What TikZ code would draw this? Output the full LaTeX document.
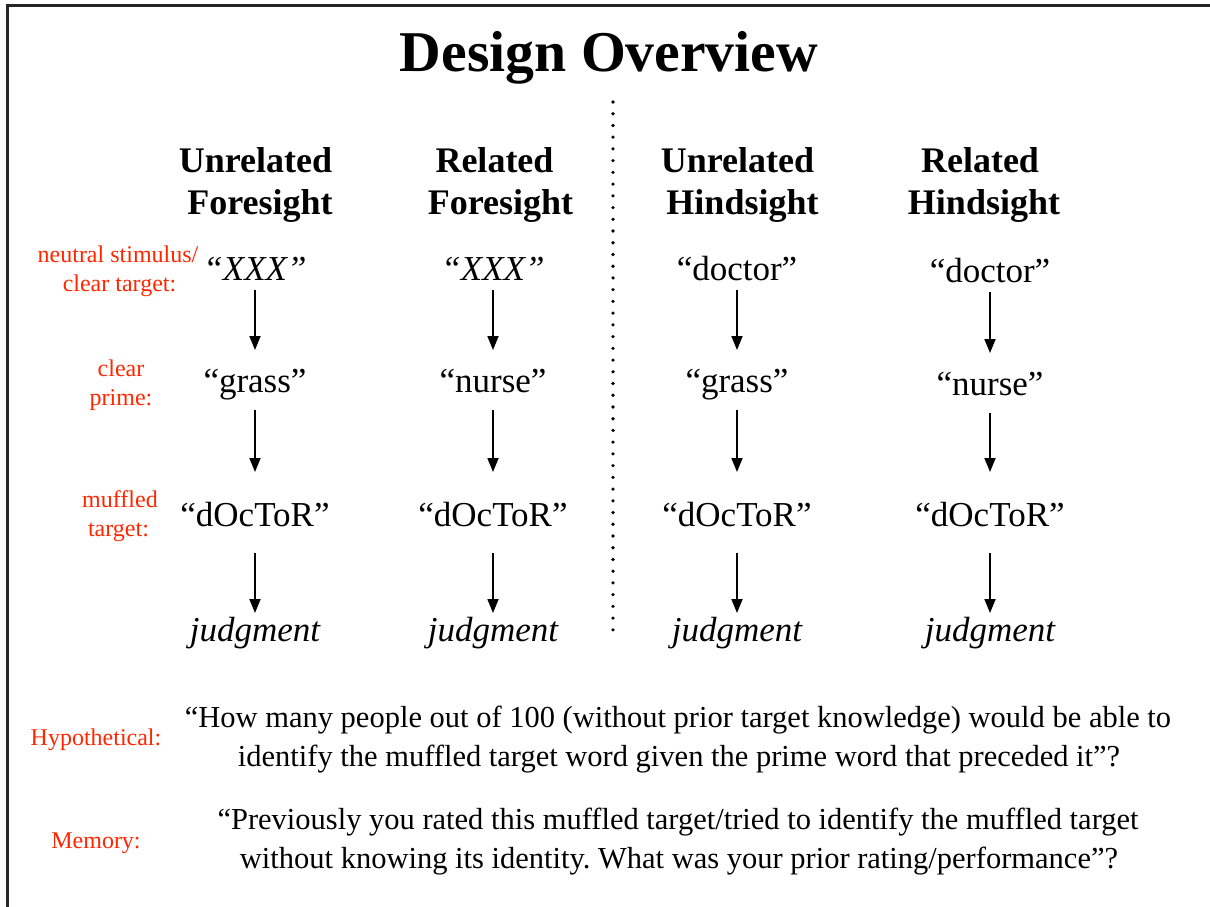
\documentclass[tikz,border=0pt]{standalone}
\usepackage{fontspec}
\setmainfont{Liberation Serif}
\usetikzlibrary{arrows.meta}
\definecolor{lblred}{RGB}{255,38,0}
\frenchspacing
\begin{document}
\begin{tikzpicture}[x=1pt,y=-1pt,
  title/.style={anchor=base,inner sep=0pt,font=\fontsize{57.7}{60}\selectfont\bfseries},
  head/.style={anchor=base,inner sep=0pt,font=\fontsize{36}{40}\selectfont\bfseries},
  item/.style={anchor=base,inner sep=0pt,font=\fontsize{35}{40}\selectfont},
  lbl/.style={anchor=base,inner sep=0pt,text=lblred,font=\fontsize{24}{26}\selectfont},
  quest/.style={anchor=base,inner sep=0pt,font=\fontsize{30.5}{36}\selectfont},
  arr/.style={line width=1.8pt,-{Triangle[length=14pt,width=11pt]}},
  sep/.style={line width=3.6pt,dash pattern=on 0pt off 11.73pt,line cap=round}]
\useasboundingbox (0,0) rectangle (1210,907);
\draw[line width=2.6pt,black!85] (7.5,5.5) rectangle (1220,920);
\node[title] (t) at (609,71) {Design Overview};
% dotted separator
\coordinate (d1) at (613,102);
\coordinate (d2) at (613,632);
\draw[sep] (d1) -- (d2);
% headers
\node[head] (h1a) at (255.5,172) {Unrelated};
\node[head] (h1b) at (260,214) {Foresight};
\node[head] (h2a) at (494.5,172) {Related};
\node[head] (h2b) at (500.5,214) {Foresight};
\node[head] (h3a) at (737.5,172) {Unrelated};
\node[head] (h3b) at (742.5,214) {Hindsight};
\node[head] (h4a) at (980,172) {Related};
\node[head] (h4b) at (984,214) {Hindsight};
% row labels
\node[lbl] (l1a) at (118,262) {neutral stimulus/};
\node[lbl] (l1b) at (119.5,291) {clear target:};
\node[lbl] (l2a) at (121,376) {clear};
\node[lbl] (l2b) at (121,405) {prime:};
\node[lbl] (l3a) at (120,507) {muffled};
\node[lbl] (l3b) at (118.5,536) {target:};
% column 1
\node[item] (a1) at (255,280) {\itshape “XXX”};
\node[item] (a2) at (255,392) {“grass”};
\node[item] (a3) at (255,526) {“dOcToR”};
\node[item] (a4) at (255,641) {\itshape judgment};
% column 2
\node[item] (b1) at (493,280) {\itshape “XXX”};
\node[item] (b2) at (493,392) {“nurse”};
\node[item] (b3) at (493,526) {“dOcToR”};
\node[item] (b4) at (493,641) {\itshape judgment};
% column 3
\node[item] (c1) at (737,280) {“doctor”};
\node[item] (c2) at (737,392) {“grass”};
\node[item] (c3) at (737,526) {“dOcToR”};
\node[item] (c4) at (737,641) {\itshape judgment};
% column 4
\node[item] (e1) at (990,282) {“doctor”};
\node[item] (e2) at (990,395) {“nurse”};
\node[item] (e3) at (990,526) {“dOcToR”};
\node[item] (e4) at (990,641) {\itshape judgment};
% arrows
\foreach \c in {a,b,c,e}{
  \draw[arr] ([yshift=-10pt]\c1.base) -- ([yshift=42pt]\c2.base);
  \draw[arr] ([yshift=-18pt]\c2.base) -- ([yshift=54pt]\c3.base);
  \draw[arr] ([yshift=-27pt]\c3.base) -- ([yshift=28pt]\c4.base);
}
% questions
\node[lbl] (hyp) at (96,745) {Hypothetical:};
\node[quest] (q1a) at (678,727) {“How many people out of 100 (without prior target knowledge) would be able to};
\node[quest] (q1b) at (679,766) {identify the muffled target word given the prime word that preceded it”?};
\node[lbl] (mem) at (96,848) {Memory:};
\node[quest] (q2a) at (678,829) {“Previously you rated this muffled target/tried to identify the muffled target};
\node[quest] (q2b) at (679,868) {without knowing its identity. What was your prior rating/performance”?};
\end{tikzpicture}
\end{document}
